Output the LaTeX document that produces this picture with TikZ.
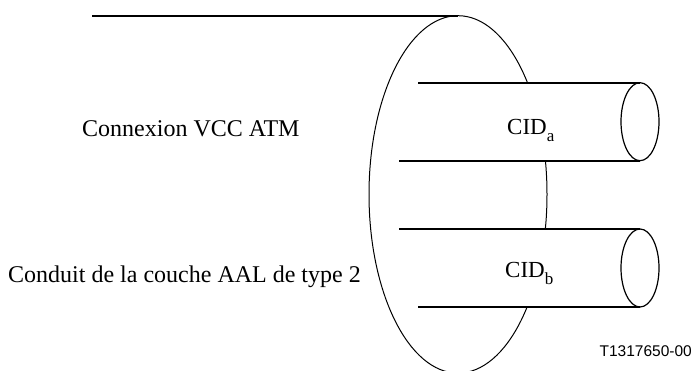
\documentclass[tikz,border=0pt]{standalone}
\usepackage{fontspec}
\setmainfont{Liberation Serif}
\newfontfamily\figsans{Liberation Sans}
\usetikzlibrary{shapes.geometric}

\tikzset{
  wire/.style={line width=2pt},
  rim/.style={line width=1.2pt},
  lbl/.style={inner sep=0pt, anchor=base west, font=\fontsize{24}{28}\selectfont},
}
\newcommand{\cidsub}[1]{CID\raisebox{-7pt}{\fontsize{17}{19}\selectfont #1}}

\begin{document}
\begin{tikzpicture}[x=1pt,y=1pt]
  \useasboundingbox (0,0) rectangle (693,371);

  % the VCC and its lead
  \node[draw, ellipse, line width=1pt, minimum width=178pt, minimum height=357.4pt,
        inner sep=0pt, outer sep=0pt] (vcc) at (458,176.6) {};
  \coordinate (lead) at (92,355.3);
  \draw[wire] (lead) -- (vcc.north);

  % two AAL type 2 channels
  \foreach \yc/\xt/\xb in {249.3/418/399, 103/399/418} {
    \fill[white] (420,\yc+39) rectangle (640,\yc-39);
    \draw[wire] (\xt,\yc+39) -- (640,\yc+39);
    \draw[wire] (\xb,\yc-39) -- (640,\yc-39);
    \draw[rim] (640,\yc) ellipse[x radius=19, y radius=39];
  }

  \node[lbl] (conn) at (82,234.3) {Connexion VCC ATM};
  \node[lbl] (conduit) at (8,88.3) {Conduit de la couche AAL de type 2};
  \node[lbl, font=\fontsize{23}{27}\selectfont] (cida) at (507,236) {\cidsub{a}};
  \node[lbl, font=\fontsize{23}{27}\selectfont] (cidb) at (505,93) {\cidsub{b}};
  \node[inner sep=0pt, anchor=base east, font=\figsans\fontsize{15.5}{18}\selectfont]
    (ref) at (692,14.3) {T1317650-00};
\end{tikzpicture}
\end{document}
